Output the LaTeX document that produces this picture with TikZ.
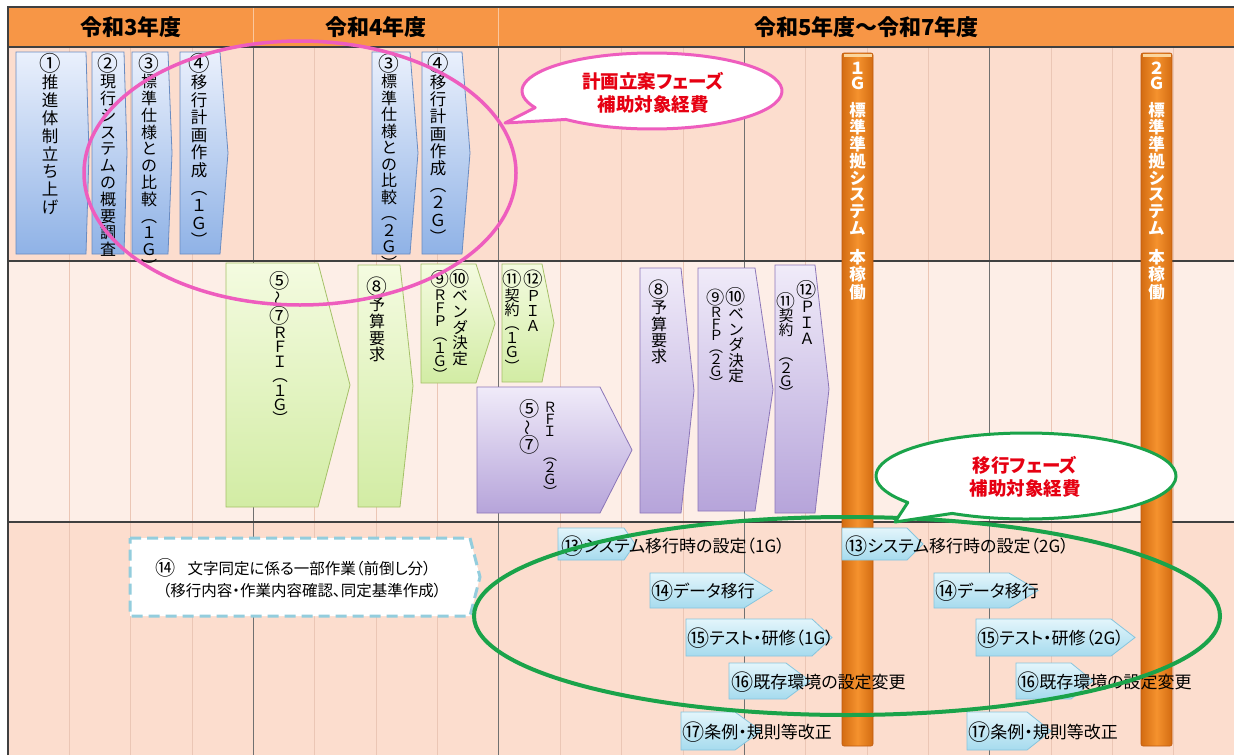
\documentclass[tikz,border=0pt]{standalone}
\usepackage{fontspec}
\usepackage{graphicx}
\setmainfont{Noto Sans CJK JP}[RawFeature=+palt]
\usetikzlibrary{calc}
\makeatletter
\newcommand\vt[2]{\vbox{\offinterlineskip\@tfor\vch:=#2\do{\hbox to 1.1em{\hss\vrule width0pt height\dimexpr#1pt/2+.38em\relax depth\dimexpr#1pt/2-.38em\relax\vch\hss}}}}
\makeatother
\newcommand\fs[1]{\fontsize{#1}{#1}\selectfont}
\newcommand\cn[1]{\raisebox{-0.1em}{\scalebox{1.3}{#1}}}
\newcommand\wv{{\rotatebox[origin=c]{90}{〜}}}
\newcommand\abox[6]{\path[#6] (#1,#2) -- (#3,#2) -- (#4,{(#2+#5)/2}) -- (#3,#5) -- (#1,#5) -- cycle;}
\definecolor{hdr}{HTML}{F79646}
\definecolor{hdrl}{HTML}{FAC79E}
\definecolor{rowA}{HTML}{FCDDCE}
\definecolor{rowB}{HTML}{FDEEE7}
\definecolor{gridl}{HTML}{EBC6B5}
\definecolor{gridd}{HTML}{707070}
\definecolor{frame}{HTML}{404040}
\definecolor{blueT}{HTML}{EAF0FC}
\definecolor{blueB}{HTML}{8FB2E6}
\definecolor{blueD}{HTML}{6A8CC2}
\definecolor{greenT}{HTML}{F4FBE0}
\definecolor{greenB}{HTML}{D2ECA4}
\definecolor{greenD}{HTML}{A5C068}
\definecolor{purT}{HTML}{F0EBF9}
\definecolor{purB}{HTML}{B6A4DA}
\definecolor{purD}{HTML}{8C76B8}
\definecolor{cyT}{HTML}{E3F5FB}
\definecolor{cyB}{HTML}{A6DBEE}
\definecolor{cyD}{HTML}{86C5DE}
\definecolor{dashc}{HTML}{93CDDD}
\definecolor{pinkc}{HTML}{EE5DBE}
\definecolor{greenc}{HTML}{1AA34A}
\definecolor{redt}{HTML}{E60012}
\definecolor{orM}{HTML}{F5922E}
\definecolor{orD}{HTML}{D36C12}
\definecolor{orE}{HTML}{C05A0E}
\definecolor{orC}{HTML}{FBD69E}
\tikzset{
  bluebox/.style={top color=blueT,bottom color=blueB,draw=blueD,line width=0.8pt},
  greenbox/.style={top color=greenT,bottom color=greenB,draw=greenD,line width=0.8pt},
  purbox/.style={top color=purT,bottom color=purB,draw=purD,line width=0.8pt},
  cybox/.style={top color=cyT,bottom color=cyB,draw=cyD,line width=0.8pt},
  vtxt/.style={anchor=north,inner sep=0pt},
  htxt/.style={anchor=west,inner sep=0pt,font=\fs{17}},
  hdrtxt/.style={inner sep=0pt,font=\fs{22}\bfseries},
  bartxt/.style={anchor=north,inner sep=0pt,text=white,font=\fs{16.5}\bfseries},
  bubtxt/.style={inner sep=0pt,align=center,text=redt,font=\fontsize{18.5}{23}\selectfont\bfseries},
  bar/.style={draw=orE,line width=0.6pt,left color=orD,right color=orD,middle color=orM,rounded corners=2pt},
}
\begin{document}
\begin{tikzpicture}[x=1pt,y=-1pt]
\useasboundingbox[fill=white] (0,0) rectangle (1234,755);
% rows
\fill[rowA] (8,47) rectangle (1234,261);
\fill[rowB] (8,261) rectangle (1234,522);
\fill[rowA] (8,522) rectangle (1234,755);
\foreach \i in {1,2,3,5,6,7,9,10,11,13,14,15,17,18,19}
  \draw[gridl,line width=0.7pt] ({8+61.35*\i},47) -- ({8+61.35*\i},755);
\foreach \i in {4,8,12,16}
  \draw[gridd,line width=0.8pt] ({8+61.35*\i},47) -- ({8+61.35*\i},755);
\fill[hdr] (8,7) rectangle (1234,47);
\foreach \i in {4,8} \draw[hdrl,line width=1pt] ({8+61.35*\i},7) -- ({8+61.35*\i},47);
\draw[frame,line width=1.2pt] (8,755) -- (8,7) -- (1234,7);
\draw[frame,line width=1.2pt] (8,47) -- (1234,47) (8,261) -- (1234,261) (8,522) -- (1234,522);
% header
\node[hdrtxt] (h3) at (130.7,27) {令和3年度};
\node[hdrtxt] (h4) at (376,27) {令和4年度};
\node[hdrtxt] (h5) at (866.5,27) {令和5年度〜令和7年度};
% row 1 blue boxes
\abox{16}{52}{86}{89}{254}{bluebox}
\abox{92}{52}{124}{127}{254}{bluebox}
\abox{132}{52}{168}{172}{254}{bluebox}
\abox{180}{52}{220}{228}{254}{bluebox}
\abox{372}{52}{410}{418}{254}{bluebox}
\abox{422}{52}{462}{470}{254}{bluebox}
\node[vtxt,font=\fs{16.5}] (t1) at (50,53) {\vt{17.9}{{\cn{①}}推進体制立ち上げ}};
\node[vtxt,font=\fs{16}] (t2) at (108,53.6) {\vt{16.8}{{\cn{②}}現行システムの概要調査}};
\node[vtxt,font=\fs{16}] (t3) at (149,53.6) {\vt{16.8}{{\cn{③}}標準仕様との比較︵１Ｇ︶}};
\node[vtxt,font=\fs{16.5}] (t4) at (199,53.2) {\vt{17.6}{{\cn{④}}移行計画作成︵１Ｇ︶}};
\node[vtxt,font=\fs{16}] (t5) at (389,53.7) {\vt{16.5}{{\cn{③}}標準仕様との比較︵２Ｇ︶}};
\node[vtxt,font=\fs{16.5}] (t6) at (438,53.4) {\vt{17.2}{{\cn{④}}移行計画作成︵２Ｇ︶}};
% row 2 green boxes
\abox{226}{263}{318}{350}{507}{greenbox}
\abox{358}{265}{400}{413}{507}{greenbox}
\abox{421}{264}{476}{495}{383}{greenbox}
\abox{502}{264}{542}{554}{382}{greenbox}
\node[vtxt,font=\fs{15.5}] (t7) at (280,270.8) {\vt{14.4}{{\cn{⑤}}\wv{\cn{⑦}}ＲＦＩ︵１Ｇ︶}};
\node[vtxt,font=\fs{16}] (t8) at (377,276.6) {\vt{16.75}{{\cn{⑧}}予算要求}};
\node[vtxt,font=\fs{14.5}] (t9) at (440,270.4) {\vt{13.3}{{\cn{⑨}}ＲＦＰ︵１Ｇ︶}};
\node[vtxt,font=\fs{15.5}] (t10) at (460,269.2) {\vt{15.6}{{\cn{⑩}}ベンダ決定}};
\node[vtxt,font=\fs{15}] (t11) at (512,270) {\vt{14.2}{{\cn{⑪}}契約︵１Ｇ︶}};
\node[vtxt,font=\fs{15}] (t12) at (533,269.4) {\vt{15.3}{{\cn{⑫}}ＰＩＡ}};
% row 2 purple boxes
\abox{477}{387}{600}{632}{513}{purbox}
\abox{640}{268}{681}{694}{513}{purbox}
\abox{698}{268}{755}{773}{511}{purbox}
\abox{775}{265}{815}{829}{513}{purbox}
\node[vtxt,font=\fs{15.5}] (t13) at (530,399.5) {\vt{15}{{\cn{⑤}}\wv{\cn{⑦}}}};
\node[vtxt,font=\fs{14}] (t14) at (550,401) {\vt{12}{ＲＦＩ{}︵２Ｇ︶}};
\node[vtxt,font=\fs{16}] (t15) at (659,280) {\vt{16.25}{{\cn{⑧}}予算要求}};
\node[vtxt,font=\fs{14}] (t16) at (716,289) {\vt{11.7}{{\cn{⑨}}ＲＦＰ︵２Ｇ︶}};
\node[vtxt,font=\fs{15.5}] (t17) at (736,287.3) {\vt{15.4}{{\cn{⑩}}ベンダ決定}};
\node[vtxt,font=\fs{14.5}] (t18) at (786,292) {\vt{12.5}{{\cn{⑪}}契約{}︵２Ｇ︶}};
\node[vtxt,font=\fs{15.5}] (t19) at (807,280) {\vt{15.7}{{\cn{⑫}}ＰＩＡ}};
% pink ellipse and bubble
\draw[pinkc,line width=3.5pt] (300,173) ellipse [x radius=216,y radius=132];
\coordinate (pc) at (652,91);
\coordinate (ptip) at (505,123);
\draw[pinkc,line width=3pt,fill=white,line join=round] (ptip) -- ($(pc)+(131.5:130 and 38)$) arc[start angle=131.5,end angle=-206,x radius=130,y radius=38] -- cycle;
\node[bubtxt] (c1) at (653,93) {計画立案フェーズ\\補助対象経費};
% orange bars
\path[bar] (842,53) rectangle (873,746);
\path[bar] (1141,53) rectangle (1172,746);
\fill[orC] (843.5,53.5) rectangle (871.5,56.5);
\fill[orC] (1142.5,53.5) rectangle (1170.5,56.5);
\node[bartxt] (b1a) at (857.5,60.5) {\vt{15}{１Ｇ}};
\node[bartxt] (b1b) at (857.5,101.5) {\vt{16.9}{標準準拠システム}};
\node[bartxt] (b1c) at (857.5,248) {\vt{17.5}{本稼働}};
\node[bartxt] (b2a) at (1156.5,60.5) {\vt{15}{２Ｇ}};
\node[bartxt] (b2b) at (1156.5,101.5) {\vt{16.9}{標準準拠システム}};
\node[bartxt] (b2c) at (1156.5,248) {\vt{17.5}{本稼働}};
% row 3
\path[fill=white,draw=dashc,line width=3pt,dash pattern=on 11pt off 6pt] (130,538) -- (470,538) -- (480,577) -- (470,616) -- (130,616) -- cycle;
\node[inner sep=0pt,font=\fs{15.5}] (d1) at (293,568) {\cn{⑭}\hspace{0.8em}文字同定に係る一部作業（前倒し分）};
\node[inner sep=0pt,font=\fs{15.5}] (d2) at (302,591) {（移行内容・作業内容確認、同定基準作成）};
\abox{558}{528}{624}{635}{560}{cybox}
\abox{842}{528}{907}{923}{560}{cybox}
\abox{650}{573}{744}{772}{608}{cybox}
\abox{934}{573}{1009}{1038}{608}{cybox}
\abox{686}{619}{812}{832}{656}{cybox}
\abox{976}{619}{1111}{1135}{656}{cybox}
\abox{729}{663}{786}{810}{699}{cybox}
\abox{1016}{663}{1071}{1093}{699}{cybox}
\abox{681}{712}{735}{761}{750}{cybox}
\abox{967}{712}{1027}{1051}{750}{cybox}
\node[htxt] (s1) at (561,546) {\cn{⑬}システム移行時の設定（1G）};
\node[htxt] (s2) at (845,546) {\cn{⑬}システム移行時の設定（2G）};
\node[htxt] (s3) at (651,591) {\cn{⑭}データ移行};
\node[htxt] (s4) at (935,591) {\cn{⑭}データ移行};
\node[htxt] (s5) at (687,638) {\cn{⑮}テスト・研修（1G）};
\node[htxt] (s6) at (977,638) {\cn{⑮}テスト・研修（2G）};
\node[htxt] (s7) at (731,682) {\cn{⑯}既存環境の設定変更};
\node[htxt] (s8) at (1017,682) {\cn{⑯}既存環境の設定変更};
\node[htxt] (s9) at (682,732) {\cn{⑰}条例・規則等改正};
\node[htxt] (s10) at (968,732) {\cn{⑰}条例・規則等改正};
% green ellipse and bubble
\draw[greenc,line width=4pt] (847,616) ellipse [x radius=373,y radius=99];
\coordinate (gc) at (1026,476);
\coordinate (gtip) at (895,522);
\draw[greenc,line width=3pt,fill=white,line join=round] (gtip) -- ($(gc)+(119.5:150 and 43)$) arc[start angle=119.5,end angle=-218,x radius=150,y radius=43] -- cycle;
\node[bubtxt] (c2) at (1025,477) {移行フェーズ\\補助対象経費};
\end{tikzpicture}
\end{document}
